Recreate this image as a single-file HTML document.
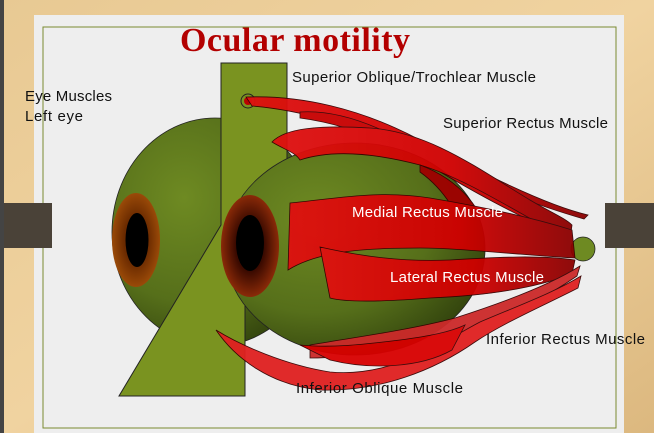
<!DOCTYPE html>
<html><head><meta charset="utf-8"><style>
html,body{margin:0;padding:0;width:654px;height:433px;overflow:hidden;background:#e3c58f;}
svg{display:block}
</style></head><body>
<svg width="654" height="433" viewBox="0 0 654 433" xmlns="http://www.w3.org/2000/svg">
<defs>
<radialGradient id="sph" cx="0.35" cy="0.35" r="0.75">
<stop offset="0" stop-color="#6e8a22"/><stop offset="0.6" stop-color="#566f1a"/><stop offset="1" stop-color="#2f3f0c"/></radialGradient>
<linearGradient id="wood" x1="0" y1="0" x2="1" y2="1">
<stop offset="0" stop-color="#e8c993"/><stop offset="0.5" stop-color="#f0d3a0"/><stop offset="1" stop-color="#dcb87f"/></linearGradient>
<radialGradient id="iris" cx="0.5" cy="0.5" r="0.5"><stop offset="0.5" stop-color="#6a2a00"/><stop offset="1" stop-color="#9a4a08"/></radialGradient>
<radialGradient id="iris2" cx="0.5" cy="0.5" r="0.5"><stop offset="0.5" stop-color="#3a0a00"/><stop offset="1" stop-color="#8a2a08"/></radialGradient>
<linearGradient id="red" x1="0" y1="0" x2="1" y2="0"><stop offset="0" stop-color="#e01010"/><stop offset="0.6" stop-color="#d00000"/><stop offset="1" stop-color="#8a0000"/></linearGradient>
</defs>
<rect width="654" height="433" fill="url(#wood)"/>
<rect x="0" y="0" width="4" height="433" fill="#444"/>
<rect x="34" y="15" width="590" height="420" fill="#eeeeee"/>
<rect x="43" y="27" width="573" height="401" fill="none" stroke="#7a8a30" stroke-width="1"/>
<rect x="4" y="203" width="48" height="45" fill="#4a4238"/>
<rect x="605" y="203" width="49" height="45" fill="#4a4238"/>

<text x="180" y="51" font-family="Liberation Serif, serif" font-weight="bold" font-size="34" fill="#b30000" textLength="230">Ocular motility</text>

<!-- back sphere -->
<ellipse cx="215" cy="232" rx="103" ry="114" fill="url(#sph)" stroke="#222" stroke-width="0.8"/>
<ellipse cx="136" cy="240" rx="24" ry="47" fill="url(#iris)"/>
<ellipse cx="137" cy="240" rx="11.5" ry="27" fill="#000"/>
<!-- rectangle + triangle (behind front sphere) -->
<polygon points="221,63 287,63 287,300 245,300 245,396 119,396 221,225" fill="#7a9320" stroke="#222" stroke-width="1"/>
<circle cx="248" cy="101" r="7" fill="none" stroke="#222" stroke-width="1"/>
<circle cx="248" cy="101" r="4" fill="#b00" />
<!-- small sphere -->
<circle cx="583" cy="249" r="12" fill="#6e8a22" stroke="#222" stroke-width="0.8"/>
<!-- front sphere -->
<ellipse cx="355" cy="249" rx="130" ry="106" fill="url(#sph)" stroke="#222" stroke-width="0.8"/>
<ellipse cx="250" cy="246" rx="29" ry="51" fill="url(#iris2)"/>
<ellipse cx="250" cy="243" rx="14" ry="28" fill="#000"/>

<g stroke="#300" stroke-width="0.8" opacity="0.95">
<!-- superior oblique -->
<path d="M246,97 C300,95 360,108 420,140 C480,172 545,205 588,215 L584,219 C535,205 470,180 410,152 C350,124 300,110 252,106 Z" fill="url(#red)"/>
<path d="M300,112 C360,108 420,150 470,180 C520,210 555,220 570,230 L566,236 C520,218 470,190 420,160 C370,132 330,122 300,118 Z" fill="#c80000"/>
<!-- superior rectus -->
<path d="M272,142 C285,128 320,125 370,128 C430,132 480,170 530,200 C550,212 565,218 572,225 L570,240 C520,215 470,180 420,165 C370,152 330,150 300,160 C295,152 285,150 272,142 Z" fill="url(#red)"/>
<path d="M420,165 C460,180 485,210 490,245 L470,250 C460,215 445,190 420,172 Z" fill="#a00000"/>
<!-- medial rectus -->
<path d="M290,203 C340,198 380,190 430,198 C490,208 540,220 572,230 L575,258 C520,255 460,248 420,248 C370,248 320,250 288,270 Z" fill="url(#red)"/>
<!-- lateral rectus -->
<path d="M320,247 C360,256 400,262 450,260 C500,257 540,255 575,260 L572,274 C530,290 480,296 430,298 C380,302 345,302 330,298 Z" fill="url(#red)"/>
<!-- inferior rectus -->
<path d="M310,345 C350,338 410,330 455,318 C505,302 550,285 580,266 L577,276 C545,298 505,318 470,330 C420,348 350,358 310,358 Z" fill="#cc2a2a"/>
<!-- inferior oblique -->
<path d="M216,330 C240,345 285,365 330,372 C395,378 445,340 480,322 C520,305 555,292 581,276 L578,288 C545,305 505,322 475,342 C435,370 380,392 320,390 C270,385 235,358 216,330 Z" fill="#e02020"/>
<path d="M300,345 C330,348 360,345 400,340 C430,336 450,332 465,325 L452,350 C420,368 370,370 330,360 Z" fill="#d80000"/>
</g>

<g font-family="Liberation Sans, sans-serif" font-size="15" fill="#111">
<text x="292" y="82" textLength="244">Superior Oblique/Trochlear Muscle</text>
<text x="443" y="128" textLength="165">Superior Rectus Muscle</text>
<text x="25" y="101" textLength="87">Eye Muscles</text>
<text x="25" y="121" textLength="58">Left eye</text>
<text x="486" y="344" textLength="159">Inferior Rectus Muscle</text>
<text x="296" y="393" textLength="167">Inferior Oblique Muscle</text>
<text x="352" y="217" fill="#fff" textLength="151">Medial Rectus Muscle</text>
<text x="390" y="282" fill="#fff" textLength="154">Lateral Rectus Muscle</text>
</g>
</svg>
</body></html>
